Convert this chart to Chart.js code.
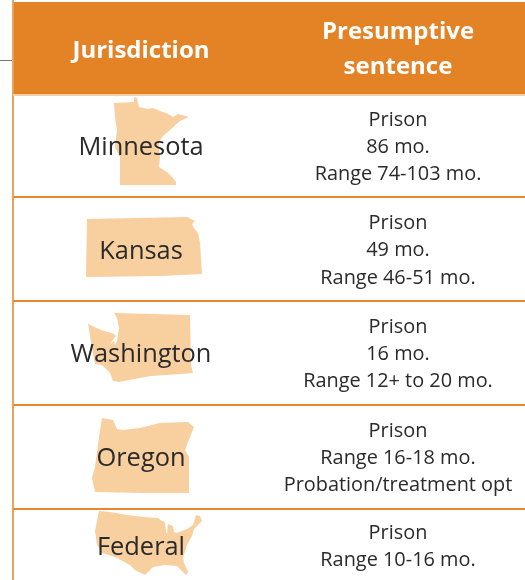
<!DOCTYPE html>
<html>
<head>
<title>Presumptive sentence</title>
<script src="https://cdnjs.cloudflare.com/ajax/libs/Chart.js/4.4.1/chart.umd.min.js"></script>
<style>
body{margin:0;background:#fff}
canvas{display:block}
</style>
</head>
<body>
<canvas id="myChart" width="525" height="580" style="width:525px;height:580px"></canvas>
<script>
// table content
var headers = ["Jurisdiction", ["Presumptive", "sentence"]];
var jurisdictions = ["Minnesota", "Kansas", "Washington", "Oregon", "Federal"];
var sentences = [
  ["Prison", "86 mo.", "Range 74-103 mo."],
  ["Prison", "49 mo.", "Range 46-51 mo."],
  ["Prison", "16 mo.", "Range 12+ to 20 mo."],
  ["Prison", "Range 16-18 mo.", "Probation/treatment opt"],
  ["Prison", "Range 10-16 mo."]
];

// outlines, [x, y] on the chart's axes
var minnesota = [[114,103],[134,102],[134,97],[137,98],[139,107],[148,109],[153,108],[160,111],[166,113],[173,117],[178,114],[189,117],[180,121],[170,130],[163,136],[159,142],[159,147],[160,157],[159,167],[167,172],[172,177],[176,182],[176,185],[120,185],[120,157],[115,147],[117,130],[115,117]];
var kansas = [[87,219],[187,217],[191,219],[195,221],[192,224],[194,228],[198,233],[200,243],[202,274],[160,276],[86,277]];
var washington = [[114,313],[190,315],[191,365],[193,373],[181,374],[151,376],[134,379],[119,382],[113,381],[110,373],[102,365],[95,364],[92,348],[88,324],[101,330],[114,334],[116,336],[112,341],[109,346],[107,347],[114,341],[115,345],[117,341],[119,328],[117,318]];
var oregon = [[102,418],[113,420],[117,429],[123,430],[140,428],[160,423],[188,422],[194,427],[188,442],[185,450],[189,457],[189,493],[143,493],[95,492],[92,478],[95,467],[99,437]];
var federal = [[99,511],[110,512],[127,515],[143,517],[158,518],[162,521],[165,522],[166,532],[167,534],[168,524],[173,526],[174,532],[177,533],[187,529],[193,525],[196,515],[200,516],[202,521],[194,529],[192,536],[187,545],[183,558],[184,563],[188,572],[186,575],[181,570],[177,566],[165,565],[153,567],[145,575],[135,570],[130,565],[115,557],[102,553],[97,545],[95,531]];
var outlines = [minnesota, kansas, washington, oregon, federal];

var headerBand = [[14,2],[525,2],[525,94],[14,94]];
var stubRule = [[0,60.5],[13,60.5]];
var leftRule = [[13,0],[13,580]];
var rowEdges = [95, 197, 301, 405, 509];

var xLabelCol = 141, xSentCol = 398;
var labelRows = [147.5, 251.5, 354.5, 458.5, 547.5];
var sentRows = [[120.5,147.5,174.5],[223.5,250.5,278.5],[327.5,354.5,381.5],[431.5,458.5,485.5],[533.5,560.5]];

function toPts(list){
  return list.map(function(p){ return {x:p[0], y:p[1]}; });
}

var datasets = [];
outlines.forEach(function(o){
  datasets.push({data:toPts(o), showLine:true, fill:'shape', backgroundColor:'#f8cf9f', borderWidth:0, pointRadius:0, tension:0});
});
datasets.push({data:toPts(headerBand), showLine:true, fill:'shape', backgroundColor:'#e38326', borderWidth:0, pointRadius:0, tension:0});
rowEdges.forEach(function(v,i){
  datasets.push({data:[{x:13,y:v},{x:525,y:v}], showLine:true, fill:false, borderColor:i === 0 ? '#f6cfa6' : '#e8862e', borderWidth:2, pointRadius:0});
});
datasets.push({data:toPts(leftRule), showLine:true, fill:false, borderColor:'#eba25c', borderWidth:2, pointRadius:0});
datasets.push({data:toPts(stubRule), showLine:true, fill:false, borderColor:'#777', borderWidth:1, pointRadius:0});

var tableText = {
  id:'tableText',
  afterDraw:function(chart){
    var c = chart.ctx, sx = chart.scales.x, sy = chart.scales.y;
    c.save();
    c.textAlign = 'center';
    c.textBaseline = 'middle';
    c.fillStyle = '#fff';
    c.font = 'bold 24px "Open Sans"';
    c.fillText(headers[0], sx.getPixelForValue(xLabelCol), sy.getPixelForValue(51.5));
    c.fillText(headers[1][0], sx.getPixelForValue(xSentCol), sy.getPixelForValue(32.5));
    c.fillText(headers[1][1], sx.getPixelForValue(xSentCol), sy.getPixelForValue(67.5));
    c.fillStyle = '#2a2a2a';
    c.font = '25.4px "Open Sans"';
    jurisdictions.forEach(function(j,i){
      c.fillText(j, sx.getPixelForValue(xLabelCol), sy.getPixelForValue(labelRows[i]));
    });
    c.font = '19.9px "Open Sans"';
    sentences.forEach(function(lines,i){
      lines.forEach(function(l,k){
        c.fillText(l, sx.getPixelForValue(xSentCol), sy.getPixelForValue(sentRows[i][k]));
      });
    });
    c.restore();
  }
};

var chart = new Chart(document.getElementById('myChart').getContext('2d'), {
  type:'scatter',
  data:{datasets:datasets},
  plugins:[tableText],
  options:{
    responsive:false,
    animation:false,
    events:[],
    layout:{padding:0},
    plugins:{legend:{display:false}, tooltip:{enabled:false}},
    scales:{
      x:{type:'linear', min:0, max:525, display:false},
      y:{type:'linear', min:0, max:580, reverse:true, display:false}
    }
  }
});
</script>
</body>
</html>
